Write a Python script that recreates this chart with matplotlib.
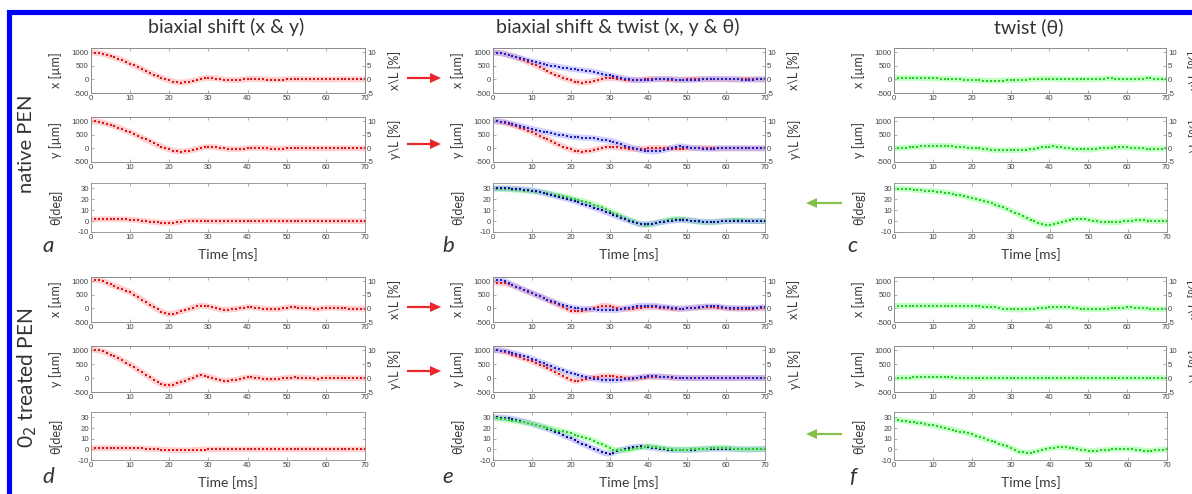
import numpy as np
import matplotlib
matplotlib.use('Agg')
import matplotlib.pyplot as plt
from matplotlib.patches import FancyArrow
from matplotlib.lines import Line2D

plt.rcParams['axes.unicode_minus'] = False
plt.rcParams['font.family'] = ['Lato', 'DejaVu Sans']

# ---------------- data ----------------
time_ms = list(range(71))
time_ticks = [0, 10, 20, 30, 40, 50, 60, 70]
um_ticks = [-500, 0, 500, 1000]
pct_ticks = [-5, 0, 5, 10]
deg_ticks = [-10, 0, 10, 20, 30]

column_titles = ["biaxial shift (x & y)", "biaxial shift & twist (x, y & \u03b8)", "twist (\u03b8)"]
row_titles = ["native PEN", "0$_2$ treated PEN"]
panel_letters = ["a", "b", "c", "d", "e", "f"]

# native PEN, biaxial shift
nat_shift_x = [990, 980, 962, 935, 895, 850, 805, 755, 700, 640,
               580, 515, 445, 375, 305, 240, 175, 115, 60, 10,
               -40, -80, -110, -115, -105, -85, -55, -20, 15, 40,
               50, 45, 30, 10, -8, -22, -28, -25, -15, -2,
               10, 17, 17, 12, 3, -5, -10, -12, -10, -5,
               0, 5, 9, 10, 9, 6, 2, -1, -3, -4,
               -4, -3, -1, 1, 3, 3, 3, 2, 0, -1, -1]
nat_shift_y = [1000, 990, 972, 945, 905, 860, 812, 760, 705, 648,
               588, 525, 460, 393, 325, 258, 190, 125, 65, 10,
               -40, -85, -112, -118, -108, -85, -55, -20, 15, 42,
               55, 50, 35, 15, -5, -20, -28, -28, -20, -8,
               5, 14, 18, 15, 8, 0, -6, -10, -10, -7,
               -3, 2, 6, 8, 8, 6, 3, 0, -2, -3,
               -3, -2, -1, 1, 2, 3, 2, 1, 0, 0, 0]
nat_shift_th = [1.5, 1.6, 1.7, 1.8, 1.8, 1.8, 1.8, 1.8, 1.7, 1.6,
                1.4, 1.1, 0.7, 0.3, -0.1, -0.5, -0.9, -1.2, -1.5, -1.6,
                -1.6, -1.4, -1.0, -0.5, -0.1, 0.2, 0.4, 0.4, 0.3, 0.1,
                0, -0.1, -0.2, -0.2, -0.1, 0, 0.1, 0.1, 0.1, 0,
                0, 0, 0.1, 0.1, 0.1, 0.2, 0.3, 0.3, 0.2, 0.1,
                0, 0, 0, 0.1, 0.1, 0.1, 0.2, 0.2, 0.2, 0.1,
                0, 0, -0.1, -0.1, 0, 0, 0, -0.1, -0.1, 0, 0]
# native PEN, shift & twist (blue)
nat_both_x = [990, 975, 955, 925, 890, 855, 815, 775, 735, 697,
              660, 625, 595, 565, 535, 505, 480, 455, 430, 405,
              385, 365, 345, 330, 315, 300, 275, 245, 210, 175,
              145, 115, 85, 60, 30, 5, -15, -30, -32, -28,
              -20, -10, 0, 8, 12, 10, 3, -7, -17, -24,
              -25, -22, -15, -8, -2, 5, 12, 18, 20, 18,
              14, 8, 2, -4, -8, -10, -8, -5, -2, 0, 0]
nat_both_y = [1000, 990, 975, 955, 925, 890, 855, 820, 785, 752,
              720, 685, 650, 615, 585, 555, 528, 500, 475, 452,
              430, 415, 402, 392, 385, 378, 365, 345, 320, 300,
              280, 245, 200, 150, 100, 60, 20, -20, -60, -90,
              -108, -115, -110, -90, -55, -20, 20, 55, 70, 65,
              45, 25, 10, 0, -10, -15, -15, -10, -5, 0,
              3, 5, 5, 3, 0, -2, -3, -2, 0, 0, 0]
nat_both_th = [30, 30, 30, 30, 30, 29.8, 29.6, 29.3, 29, 28.6,
               28.1, 27.5, 26.8, 26, 25.1, 24.1, 23.2, 22.3, 21.4, 20.6,
               19.6, 18.5, 17.3, 16.1, 14.9, 13.7, 12.4, 11.1, 9.8, 8.5,
               7.1, 5.7, 4.3, 3, 1.7, 0.5, -0.8, -2, -2.8, -3,
               -2.8, -2.3, -1.7, -1.1, -0.5, 0, 0.4, 0.8, 1, 1,
               0.8, 0.5, 0.1, -0.3, -0.6, -0.8, -0.8, -0.6, -0.4, -0.2,
               0, 0.1, 0.2, 0.2, 0.1, 0, -0.1, -0.1, 0, 0, 0]
# native PEN, twist
nat_twist_x = [50, 52, 54, 55, 55, 54, 52, 50, 47, 43,
               38, 33, 28, 22, 16, 10, 4, -3, -10, -18,
               -25, -32, -38, -43, -47, -50, -50, -48, -45, -40,
               -35, -29, -22, -15, -8, 0, 7, 14, 20, 24,
               25, 22, 16, 9, 3, 0, -2, -4, -4, -2,
               0, 6, 14, 22, 30, 35, 33, 26, 16, 6,
               0, 2, 10, 20, 30, 35, 34, 28, 20, 14, 10]
nat_twist_y = [0, 10, 20, 30, 40, 50, 60, 70, 78, 85,
               90, 92, 92, 90, 85, 78, 68, 55, 42, 28,
               15, 5, -5, -18, -32, -45, -58, -66, -70, -70,
               -67, -63, -58, -52, -45, -35, -15, 10, 35, 55,
               68, 70, 62, 45, 25, 5, -10, -22, -32, -38,
               -40, -35, -20, -2, 12, 22, 30, 36, 40, 38,
               32, 24, 15, 5, -5, -15, -20, -18, -12, -6, 0]
nat_twist_th = [30, 29.9, 29.7, 29.5, 29.2, 28.9, 28.6, 28.3, 28, 27.7,
                27.5, 27.1, 26.7, 26.2, 25.6, 25, 24.3, 23.6, 22.8, 21.9,
                21, 20.1, 19.2, 18.4, 17.5, 16.4, 15.2, 13.9, 12.5, 11,
                9.5, 7.8, 6.1, 4.4, 2.8, 1.3, -0.2, -1.6, -2.8, -3.4,
                -3.3, -2.7, -1.8, -0.8, 0.2, 1, 1.6, 1.9, 1.9, 1.6,
                1.1, 0.5, -0.1, -0.6, -1, -1.2, -1.2, -1, -0.6, -0.2,
                0.2, 0.5, 0.7, 0.8, 0.7, 0.5, 0.3, 0.1, 0, 0, 0]
# O2 treated PEN, biaxial shift
o2_shift_x = [1060, 1050, 1030, 1000, 945, 880, 825, 765, 705, 650,
              590, 505, 415, 320, 230, 140, 50, -40, -120, -180,
              -210, -195, -155, -110, -65, -25, 20, 70, 105, 95,
              70, 35, 0, -30, -50, -45, -32, -20, 0, 25,
              45, 40, 25, 8, -10, -22, -32, -35, -25, 0,
              30, 45, 40, 30, 22, 15, 0, -20, -15, 0,
              18, 30, 25, 15, 5, 0, -5, -10, -12, -10, -10]
o2_shift_y = [1020, 1010, 990, 955, 905, 840, 775, 705, 630, 555,
              480, 390, 300, 205, 115, 25, -65, -150, -220, -260,
              -262, -235, -190, -140, -95, -50, 0, 60, 100, 85,
              50, 10, -35, -75, -95, -90, -75, -60, -30, 0,
              25, 30, 20, 0, -25, -45, -50, -40, -25, -10,
              0, 15, 22, 20, 12, 5, -5, -15, -20, -12,
              0, 12, 20, 15, 5, -3, -8, -10, -8, -5, -5]
o2_shift_th = [1, 1, 1, 1, 1, 1, 1, 1, 1, 1,
               1, 1, 0.9, 0.8, 0.6, 0.4, 0.2, 0, -0.2, -0.4,
               -0.6, -0.8, -0.9, -1, -1, -0.9, -0.7, -0.5, -0.3, -0.2,
               -0.1, 0, 0, 0.1, 0.1, 0, 0, 0, 0, 0,
               0, 0, 0, 0.1, 0.1, 0, 0, 0, 0, 0,
               0, 0, 0, 0, 0.1, 0.1, 0, 0, 0, 0,
               0, 0, 0, 0, 0, 0, 0, 0, 0, 0, 0]
# O2 treated PEN, shift & twist
o2_both_x_red = [950, 945, 935, 915, 880, 840, 790, 730, 665, 615,
                 560, 500, 440, 375, 312, 250, 180, 112, 50, -20,
                 -80, -100, -95, -80, -60, -40, 0, 50, 95, 90,
                 70, 45, 20, -5, -20, -25, -15, 0, 20, 35,
                 45, 45, 40, 25, 10, 0, -10, -18, -20, -12,
                 0, 10, 20, 30, 38, 40, 38, 34, 30, 15,
                 0, -5, -8, -10, -10, -10, -8, -5, -3, -1, 0]
o2_both_x = [1060, 1050, 1030, 1000, 935, 860, 800, 740, 680, 620,
             560, 500, 440, 385, 325, 270, 220, 170, 120, 75,
             35, 15, 0, -10, -18, -25, -35, -45, -52, -57,
             -60, -62, -60, -35, 0, 25, 55, 80, 95, 98,
             97, 95, 85, 65, 50, 35, 20, 5, -10, -5,
             0, 15, 30, 45, 60, 70, 72, 72, 70, 45,
             20, 10, 3, 0, 0, 0, 5, 12, 20, 35, 45]
o2_both_y_red = [1000, 995, 980, 950, 900, 840, 795, 745, 695, 650,
                 600, 540, 480, 420, 360, 300, 225, 150, 75, 5,
                 -60, -100, -90, -60, -30, 0, 25, 45, 60, 68,
                 70, 60, 48, 35, 10, -12, -25, -15, 5, 20,
                 35, 45, 50, 42, 35, 25, 15, 8, 3, 0,
                 -2, -3, -3, -2, 0, 2, 3, 3, 2, 0,
                 -2, -3, -2, 0, 2, 2, 1, 0, -1, 0, 0]
o2_both_y = [1000, 995, 985, 965, 935, 900, 865, 825, 785, 745,
             700, 645, 590, 535, 478, 420, 370, 320, 272, 225,
             180, 140, 100, 62, 30, 0, -25, -50, -70, -80,
             -85, -80, -72, -60, -45, -28, -10, 10, 30, 48,
             60, 63, 60, 52, 45, 35, 25, 15, 8, 3,
             0, -2, -3, -3, -2, 0, 1, 2, 2, 1,
             0, -1, -1, 0, 1, 1, 0, 0, 0, 0, 0]
o2_both_th = [30, 29.9, 29.7, 29.4, 29, 28.5, 27.7, 26.9, 26, 25,
              24, 22.9, 21.7, 20.5, 19.3, 18, 16.5, 15, 13.4, 11.8,
              10.3, 8.6, 6.9, 5.2, 3.6, 2, 0.5, -1, -2.7, -3.8,
              -4, -3.2, -1.8, -0.6, 0.4, 1.2, 1.9, 2.4, 2.7, 2.5,
              2, 1.6, 1.1, 0.6, 0.2, -0.3, -0.5, -0.6, -0.6, -0.6,
              -0.6, -0.5, -0.3, -0.1, 0.1, 0.3, 0.4, 0.5, 0.6, 0.6,
              0.6, 0.5, 0.3, 0.1, 0, -0.1, -0.1, 0, 0.1, 0.2, 0.3]
o2_both_th_green = [29.4, 29, 28.6, 28.1, 27.6, 27, 26.4, 25.8, 25.2, 24.6,
                    24, 23.1, 22.2, 21.3, 20.3, 19.4, 18.5, 17.6, 16.8, 15.9,
                    15, 13.9, 12.8, 11.7, 10.6, 9.4, 8, 6.4, 4.7, 2.9,
                    1.2, -0.2, -1, -1, -0.7, -0.3, 0.3, 1, 1.7, 2.3,
                    2.7, 2.6, 2.2, 1.5, 0.8, 0.3, 0, -0.2, -0.3, -0.3,
                    -0.3, -0.1, 0.1, 0.3, 0.5, 0.6, 0.9, 1.2, 1.5, 1.4,
                    1.2, 0.9, 0.6, 0.3, 0.1, 0, 0, 0.1, 0.2, 0.3, 0.3]
# O2 treated PEN, twist
o2_twist_x = [95, 95, 95, 96, 96, 96, 96, 95, 95, 95,
              95, 97, 100, 102, 104, 105, 103, 98, 92, 86,
              80, 76, 72, 68, 64, 60, 40, 15, -10, -25,
              -35, -38, -38, -35, -30, -25, -12, 2, 15, 27,
              35, 38, 40, 40, 38, 35, 20, 5, -10, -20,
              -25, -27, -27, -25, -18, -10, 0, 10, 20, 28,
              35, 33, 30, 25, 15, 0, -20, -35, -33, -30, -25]
o2_twist_y = [0, 3, 8, 13, 18, 23, 30, 38, 45, 50,
              50, 48, 44, 38, 32, 25, 18, 12, 6, 2,
              0, 0, -2, -3, -3, -2, 0, 2, 3, 3,
              2, 0, -2, -3, -3, -2, 0, 2, 3, 3,
              2, 0, -2, -3, -3, -2, 0, 2, 3, 3,
              2, 0, -2, -2, -2, -1, 0, 1, 2, 2,
              1, 0, -1, -2, -2, -1, 0, 1, 1, 0, 0]
o2_twist_th = [28, 27.5, 27, 26.5, 26, 25.5, 24.9, 24.3, 23.7, 23.1,
               22.5, 21.7, 20.9, 20.1, 19.3, 18.5, 17.6, 16.7, 15.8, 14.9,
               14, 12.8, 11.5, 10.2, 8.9, 7.7, 6.5, 5.3, 4.1, 2.8,
               1.5, -0.5, -2.2, -2.9, -3.1, -3, -2.4, -1.5, -0.6, 0.3,
               1, 1.6, 2, 2, 1.8, 1.5, 1, 0.4, -0.3, -1,
               -1.5, -1.5, -1.2, -0.9, -0.6, -0.3, 0, 0.4, 0.6, 0.5,
               0.2, 0, -0.3, -0.7, -1.1, -1.5, -1.4, -1, -0.6, -0.3, 0]

# ---------------- styling ----------------
STY = {
    'red':   dict(halo='#ff8080', core='#d81818'),
    'blue':  dict(halo='#8080ff', core='#2020c0'),
    'navy':  dict(halo='#7070ff', core='#101080'),
    'green': dict(halo='#60ff60', core='#28cc28'),
}
TICKFONT = 'Liberation Sans'
SPINE = '#8c8c8c'
LABC = '#3a3a3a'

W, H = 1192, 494
fig = plt.figure(figsize=(W / 100, H / 100), dpi=100)
fig.patch.set_facecolor('white')


def ax_at(l, t, r, b):
    return fig.add_axes([l / W, 1 - b / H, (r - l) / W, (b - t) / H])


def trace(ax, vals, kind, z=2):
    s = STY[kind]
    t = time_ms[:len(vals)]
    ax.plot(t, vals, color=s['halo'], lw=4.2, alpha=0.38, solid_capstyle='butt', zorder=z)
    ax.plot(t, vals, ls='none', marker='s', ms=1.5, mfc=s['core'], mec=s['core'], mew=0, zorder=z + 0.5)


def base_style(ax, right):
    ax.set_xlim(0, 70)
    ax.set_xticks(time_ticks)
    for sp in ax.spines.values():
        sp.set_color(SPINE)
        sp.set_linewidth(0.6)
    ax.tick_params(direction='in', length=2.2, width=0.5, color=SPINE, labelcolor='#444444',
                   labelsize=5.6, pad=1.5, top=True, right=right, labelfontfamily=TICKFONT)


def xy_panel(ax, series, name):
    base_style(ax, right=False)
    ax.set_ylim(-500, 1150)
    ax.set_yticks(um_ticks)
    for vals, kind in series:
        trace(ax, vals, kind)
    ax.set_ylabel(name + ' [\u00b5m]', fontsize=9, color=LABC)
    ax.yaxis.set_label_coords(-0.105, 0.5)
    ax2 = ax.twinx()
    ax2.set_ylim(-5, 11.5)
    ax2.set_yticks(pct_ticks)
    for sp in ax2.spines.values():
        sp.set_color(SPINE)
        sp.set_linewidth(0.6)
    ax2.tick_params(direction='in', length=2.2, width=0.5, color=SPINE, labelcolor='#444444',
                    labelsize=5.6, pad=1.5, labelfontfamily=TICKFONT)
    ax2.set_ylabel(name + '\\L [%]', fontsize=9, color=LABC)
    ax2.yaxis.set_label_coords(1.083, 0.5)


def th_panel(ax, series):
    base_style(ax, right=True)
    ax.set_ylim(-10, 35)
    ax.set_yticks(deg_ticks)
    for vals, kind in series:
        trace(ax, vals, kind)
    ax.set_ylabel('\u03b8[deg]', fontsize=9, color=LABC)
    ax.yaxis.set_label_coords(-0.105, 0.5)
    ax.set_xlabel('Time [ms]', fontsize=10, color=LABC)
    ax.xaxis.set_label_coords(0.5, -0.33)


col_x = [(91, 365), (493, 765), (894, 1166)]
rows_top = [(48, 93), (117, 162), (183, 232)]
rows_bot = [(277, 322), (346, 392), (412, 460)]

panels = {
    (0, 0): ([(nat_shift_x, 'red')], [(nat_shift_y, 'red')], [(nat_shift_th, 'red')]),
    (0, 1): ([(nat_shift_x, 'red'), (nat_both_x, 'blue')],
             [(nat_shift_y, 'red'), (nat_both_y, 'blue')],
             [(nat_twist_th, 'green'), (nat_both_th, 'navy')]),
    (0, 2): ([(nat_twist_x, 'green')], [(nat_twist_y, 'green')], [(nat_twist_th, 'green')]),
    (1, 0): ([(o2_shift_x, 'red')], [(o2_shift_y, 'red')], [(o2_shift_th, 'red')]),
    (1, 1): ([(o2_both_x_red, 'red'), (o2_both_x, 'blue')],
             [(o2_both_y_red, 'red'), (o2_both_y, 'blue')],
             [(o2_both_th, 'navy'), (o2_both_th_green, 'green')]),
    (1, 2): ([(o2_twist_x, 'green')], [(o2_twist_y, 'green')], [(o2_twist_th, 'green')]),
}

for (half, col), (sx, sy, sth) in panels.items():
    rows = rows_top if half == 0 else rows_bot
    l, r = col_x[col]
    xy_panel(ax_at(l, rows[0][0], r, rows[0][1]), sx, 'x')
    xy_panel(ax_at(l, rows[1][0], r, rows[1][1]), sy, 'y')
    th_panel(ax_at(l, rows[2][0], r + (1 if col == 2 else 0), rows[2][1]), sth)

# column titles
for cx, title in zip([226, 618, 1029], column_titles):
    fig.text(cx / W, 1 - 27 / H, title, ha='center', va='center', fontsize=14, color='#333333')

# row titles
fig.text(27 / W, 1 - 144 / H, row_titles[0], rotation=90, ha='center', va='center',
         fontsize=14.5, color='#333333')
fig.text(27 / W, 1 - 378 / H, row_titles[1], rotation=90, ha='center', va='center',
         fontsize=15, color='#333333')

# panel letters
letter_pos = [(48, 246), (448, 246), (852, 246), (48, 477), (448, 477), (853, 477)]
for (px, py), lt in zip(letter_pos, panel_letters):
    fig.text(px / W, 1 - py / H, lt, ha='center', va='center', fontsize=16,
             style='italic', color='#333333')

# arrows (pixel coords -> inches)
def arrow(x0, x1, y, color):
    yi = (H - y) / 100
    fig.add_artist(FancyArrow(x0 / 100, yi, (x1 - x0) / 100, 0, width=0.022,
                              head_width=0.10, head_length=0.11, length_includes_head=True,
                              color=color, lw=0, transform=fig.dpi_scale_trans))

for yy in (78, 144, 307, 371):
    arrow(407, 441, yy, '#e8262b')
for yy in (203, 434):
    arrow(842, 806, yy, '#86bf4a')

# blue frame
fig.add_artist(Line2D([9.3 / W, 9.3 / W, 1.0], [0.0, 1 - 12.5 / H, 1 - 12.5 / H],
                      transform=fig.transFigure, color='#0000ff', lw=3.7,
                      solid_joinstyle='miter', solid_capstyle='butt'))

fig.savefig('out.png', dpi=100, facecolor='white')
